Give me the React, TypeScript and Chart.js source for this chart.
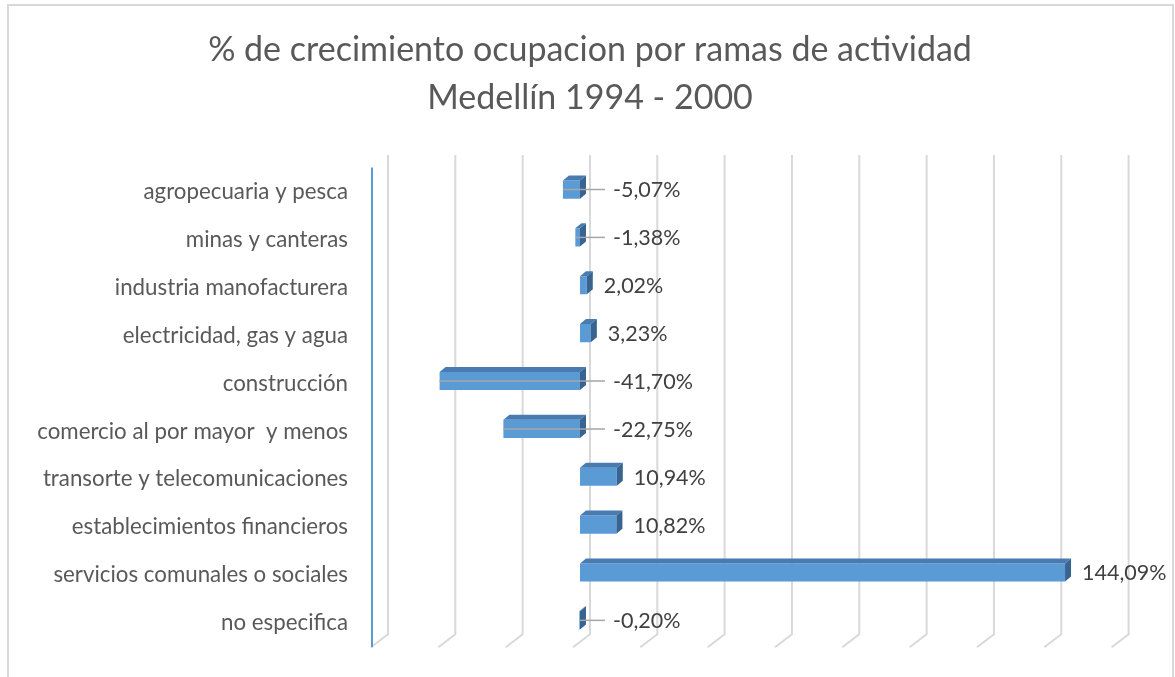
import React, { useEffect, useRef } from 'react';
import { Chart, registerables } from 'chart.js';

Chart.register(...registerables);

const categories = [
  'agropecuaria y pesca',
  'minas y canteras',
  'industria manofacturera',
  'electricidad, gas y agua',
  'construcción',
  'comercio al por mayor  y menos',
  'transorte y telecomunicaciones',
  'establecimientos financieros',
  'servicios comunales o sociales',
  'no especifica',
];
const values = [-5.07, -1.38, 2.02, 3.23, -41.7, -22.75, 10.94, 10.82, 144.09, -0.2];
const axisMin = -60;
const axisMax = 160;
const axisStep = 20;
const titleLines = ['% de crecimiento ocupacion por ramas de actividad', 'Medellín 1994 - 2000'];

const FONT = 'Lato, "Open Sans", "DejaVu Sans", sans-serif';
const DX = 6;
const DY = 5;

const fmt = (v: number) => v.toFixed(2).replace('.', ',') + '%';

const excel3d = {
  id: 'excel3d',
  beforeDatasetsDraw(chart: any) {
    const { ctx, chartArea } = chart;
    const xs = chart.scales.x;
    let tickVals: number[] = (xs.ticks || []).map((t: any) => t.value);
    if (!tickVals.length) {
      tickVals = [];
      for (let v = axisMin; v <= axisMax; v += axisStep) tickVals.push(v);
    }
    const topY = chartArea.top - 10.5;
    const kneeY = chartArea.bottom - 10;
    const botY = chartArea.bottom + 3;
    ctx.save();
    ctx.strokeStyle = '#d9d9d9';
    ctx.lineWidth = 2;
    tickVals.forEach((v) => {
      const px = xs.getPixelForValue(v);
      ctx.beginPath();
      ctx.moveTo(px + 10, topY);
      ctx.lineTo(px + 10, kneeY);
      ctx.lineTo(px - 7, botY);
      ctx.stroke();
    });
    const ax = xs.getPixelForValue(axisMin) - 6;
    ctx.strokeStyle = '#5b9bd5';
    ctx.lineWidth = 2;
    ctx.beginPath();
    ctx.moveTo(ax, chartArea.top + 2);
    ctx.lineTo(ax, botY);
    ctx.stroke();
    ctx.restore();
  },
  afterDatasetsDraw(chart: any) {
    const { ctx } = chart;
    const meta = chart.getDatasetMeta(0);
    ctx.save();
    meta.data.forEach((el: any, i: number) => {
      const { x, y, base, height } = el.getProps(['x', 'y', 'base', 'height'], true);
      const left = Math.min(x, base);
      const right = Math.max(x, base);
      const top = y - height / 2;
      const bottom = y + height / 2;
      ctx.fillStyle = '#487bb0';
      ctx.beginPath();
      ctx.moveTo(left, top);
      ctx.lineTo(right, top);
      ctx.lineTo(right + DX, top - DY);
      ctx.lineTo(left + DX, top - DY);
      ctx.closePath();
      ctx.fill();
      ctx.fillStyle = '#38648f';
      ctx.beginPath();
      ctx.moveTo(right, top);
      ctx.lineTo(right + DX, top - DY);
      ctx.lineTo(right + DX, bottom - DY);
      ctx.lineTo(right, bottom);
      ctx.closePath();
      ctx.fill();

      const v = values[i];
      let tx: number;
      if (v < 0) {
        tx = base + 33;
        ctx.strokeStyle = '#a6a6a6';
        ctx.lineWidth = 1.5;
        ctx.beginPath();
        ctx.moveTo(left, y);
        ctx.lineTo(tx - 8, y);
        ctx.stroke();
      } else {
        tx = right + 17;
      }
      ctx.font = `21.5px ${FONT}`;
      ctx.fillStyle = '#404040';
      ctx.textBaseline = 'middle';
      ctx.textAlign = 'left';
      ctx.fillText(fmt(v), tx, y + 1);
    });
    ctx.restore();
  },
  afterDraw(chart: any) {
    const { ctx } = chart;
    ctx.save();
    ctx.font = `34px ${FONT}`;
    ctx.fillStyle = '#595959';
    ctx.textAlign = 'center';
    ctx.textBaseline = 'middle';
    titleLines.forEach((line, i) => {
      ctx.fillText(line, 590, 50 + i * 48.3);
    });
    ctx.restore();
  },
};

export default function App() {
  const ref = useRef<HTMLCanvasElement | null>(null);
  useEffect(() => {
    if (!ref.current) return;
    const chart = new Chart(ref.current, {
      type: 'bar',
      data: {
        labels: categories,
        datasets: [
          {
            data: values,
            backgroundColor: '#5b9bd5',
            borderWidth: 0,
            barPercentage: 0.38,
            categoryPercentage: 1,
          },
        ],
      },
      options: {
        indexAxis: 'y',
        animation: false,
        responsive: false,
        layout: { padding: { left: 0, right: 56.4, top: 165.6, bottom: 32.7 } },
        plugins: {
          legend: { display: false },
          tooltip: { enabled: false },
          title: { display: false },
        },
        scales: {
          x: {
            display: false,
            min: axisMin,
            max: axisMax,
            ticks: { stepSize: axisStep },
          },
          y: {
            grid: { display: false, drawTicks: false },
            border: { display: false },
            ticks: {
              color: '#595959',
              font: { family: FONT, size: 22.3 },
              padding: 30,
              labelOffset: 2.5,
              autoSkip: false,
            },
            afterFit(scale: any) {
              scale.width = 378;
              scale.paddingTop = 0;
              scale.paddingBottom = 0;
            },
          },
        },
      },
      plugins: [excel3d],
    });
    return () => chart.destroy();
  }, []);
  return (
    <div style={{ position: 'absolute', left: 0, top: 0, width: 1175, height: 677, overflow: 'hidden', background: '#fff' }}>
      <div
        style={{
          position: 'absolute',
          left: 7,
          top: 4,
          width: 1167,
          height: 700,
          border: '2px solid #d9d9d9',
          boxSizing: 'border-box',
        }}
      />
      <canvas ref={ref} width={1175} height={677} style={{ position: 'absolute', left: 0, top: 0 }} />
    </div>
  );
}
